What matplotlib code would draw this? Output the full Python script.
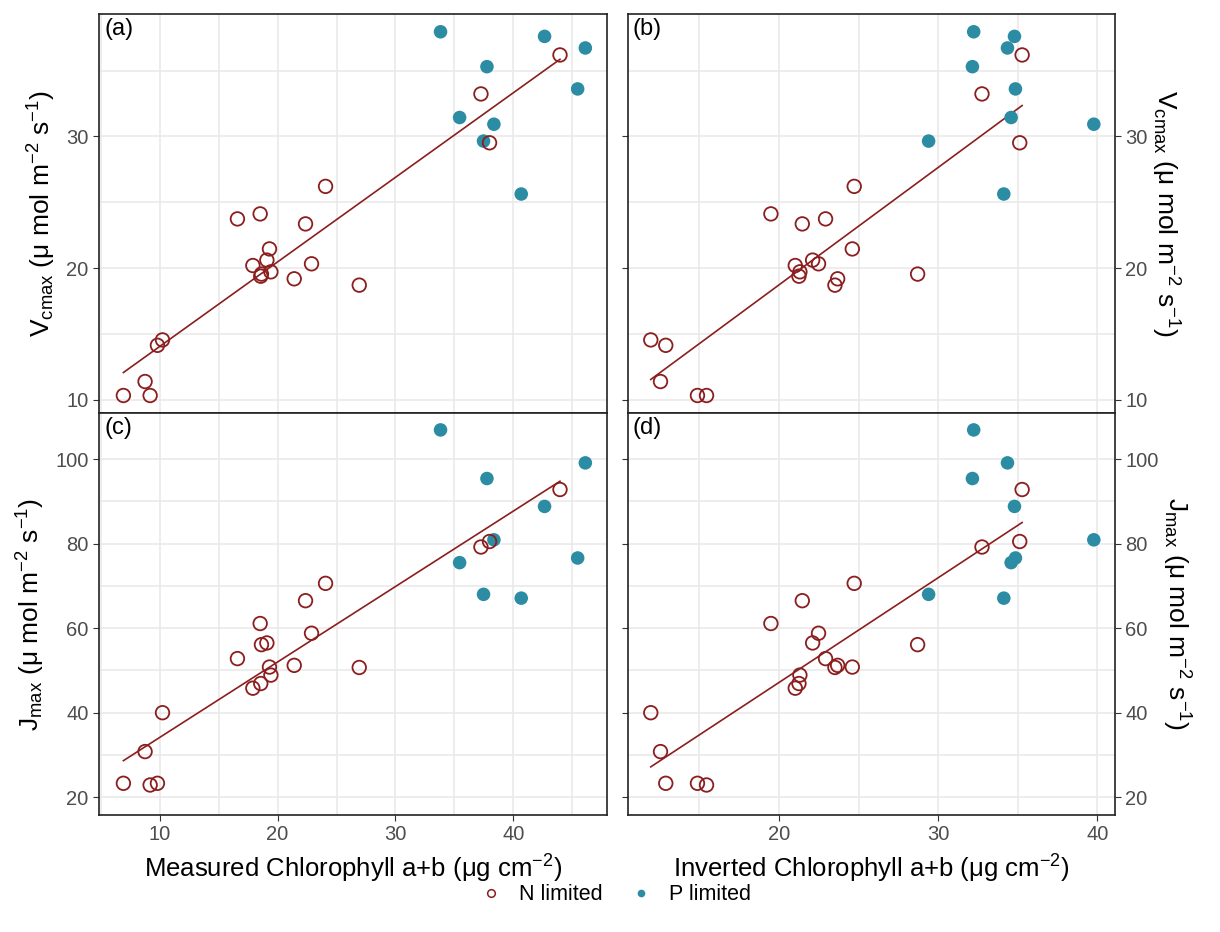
import numpy as np
import matplotlib
matplotlib.use("Agg")
import matplotlib.pyplot as plt
from matplotlib.lines import Line2D

plt.rcParams['font.family'] = ['Liberation Sans', 'DejaVu Sans']
plt.rcParams['mathtext.fontset'] = 'custom'
plt.rcParams['mathtext.rm'] = 'Liberation Sans'
plt.rcParams['mathtext.it'] = 'Liberation Sans:italic'
plt.rcParams['mathtext.default'] = 'regular'

# samples: N limited
n_chl_meas = [6.91, 8.75, 9.18, 9.80, 10.23, 16.59, 17.90, 18.52, 18.57, 18.63,
              19.09, 19.31, 19.43, 21.41, 22.37, 22.88, 24.07, 26.93, 37.26, 37.99, 43.97]
n_chl_inv = [14.89, 12.57, 15.46, 12.90, 11.96, 22.93, 21.03, 19.50, 21.26, 28.71,
             22.12, 24.61, 21.32, 23.69, 21.47, 22.49, 24.73, 23.52, 32.75, 35.12, 35.27]
n_vcmax = [10.33, 11.39, 10.33, 14.14, 14.55, 23.74, 20.20, 24.12, 19.39, 19.55,
           20.61, 21.46, 19.72, 19.19, 23.36, 20.33, 26.21, 18.71, 33.23, 29.52, 36.19]
n_jmax = [23.3, 30.8, 22.9, 23.3, 40.0, 52.8, 45.8, 61.1, 46.9, 56.1,
          56.5, 50.8, 48.9, 51.2, 66.5, 58.8, 70.6, 50.7, 79.2, 80.5, 92.8]

# samples: P limited
p_chl_meas = [33.83, 35.45, 37.48, 37.77, 38.36, 40.68, 42.66, 45.47, 46.12]
p_chl_inv = [32.23, 34.58, 29.40, 32.15, 39.77, 34.12, 34.79, 34.85, 34.35]
p_vcmax = [37.95, 31.44, 29.65, 35.30, 30.93, 25.63, 37.60, 33.61, 36.72]
p_jmax = [106.9, 75.5, 68.0, 95.4, 80.9, 67.1, 88.8, 76.6, 99.1]

N_COL = '#8b1e1e'
P_COL = '#2b8ca3'
GRID = '#e8e8e8'

fig = plt.figure(figsize=(12.2, 9.32), dpi=100)
W, H = 1220, 932


def add_ax(l, r, t, b):
    return fig.add_axes([l / W, 1 - b / H, (r - l) / W, (b - t) / H])


ax_a = add_ax(99, 607, 14, 413)
ax_b = add_ax(628, 1115, 14, 413)
ax_c = add_ax(99, 607, 413, 815)
ax_d = add_ax(628, 1115, 413, 815)

panels = [
    (ax_a, n_chl_meas, n_vcmax, p_chl_meas, p_vcmax, '(a)'),
    (ax_b, n_chl_inv, n_vcmax, p_chl_inv, p_vcmax, '(b)'),
    (ax_c, n_chl_meas, n_jmax, p_chl_meas, p_jmax, '(c)'),
    (ax_d, n_chl_inv, n_jmax, p_chl_inv, p_jmax, '(d)'),
]

for ax, nx, ny, px, py, tag in panels:
    nx, ny = np.array(nx), np.array(ny)
    ax.set_axisbelow(True)
    ax.scatter(px, py, s=95, color=P_COL, edgecolors='none', zorder=3)
    ax.scatter(nx, ny, s=95, facecolors='none', edgecolors=N_COL, linewidths=1.3, zorder=4)
    k, c0 = np.polyfit(nx, ny, 1)
    xs = np.array([nx.min(), nx.max()])
    ax.plot(xs, k * xs + c0, color=N_COL, lw=1.2, zorder=2)
    ax.text(0.01, 0.99, tag, transform=ax.transAxes, ha='left', va='top', fontsize=17)
    for sp in ax.spines.values():
        sp.set_color('#222222')
        sp.set_linewidth(1.2)
    ax.grid(True, which='both', color=GRID, lw=1.1)
    ax.tick_params(which='major', labelsize=14.5, labelcolor='#4d4d4d', color='#333333', length=4)
    ax.tick_params(which='minor', length=0)

# x limits / ticks
for ax in (ax_a, ax_c):
    ax.set_xlim(4.84, 47.96)
    ax.set_xticks([10, 20, 30, 40])
    ax.set_xticks([5, 15, 25, 35, 45], minor=True)
for ax in (ax_b, ax_d):
    ax.set_xlim(10.53, 41.1)
    ax.set_xticks([20, 30, 40])
    ax.set_xticks([15, 25, 35], minor=True)

for ax in (ax_a, ax_b):
    ax.set_ylim(9.0, 39.3)
    ax.set_yticks([10, 20, 30])
    ax.set_yticks([15, 25, 35], minor=True)
    ax.tick_params(axis='x', which='both', bottom=False, labelbottom=False)
for ax in (ax_c, ax_d):
    ax.set_ylim(15.8, 110.9)
    ax.set_yticks([20, 40, 60, 80, 100])
    ax.set_yticks([30, 50, 70, 90], minor=True)

for ax in (ax_b, ax_d):
    ax.tick_params(axis='y', which='major', left=True, right=True,
                   labelleft=False, labelright=True)
    ax.yaxis.set_label_position('right')

vlab = r'V$_{cmax}$ ($\mu$ mol m$^{-2}$ s$^{-1}$)'
jlab = r'J$_{max}$ ($\mu$ mol m$^{-2}$ s$^{-1}$)'
ax_a.set_ylabel(vlab, fontsize=19, labelpad=6)
ax_c.set_ylabel(jlab, fontsize=19, labelpad=6)
ax_b.set_ylabel(vlab, fontsize=19, rotation=270, labelpad=24)
ax_d.set_ylabel(jlab, fontsize=19, rotation=270, labelpad=24)

ax_c.set_xlabel(r'Measured Chlorophyll a+b ($\mu$g cm$^{-2}$)', fontsize=18.5, labelpad=6)
ax_d.set_xlabel(r'Inverted Chlorophyll a+b ($\mu$g cm$^{-2}$)', fontsize=18.5, labelpad=6)

handles = [
    Line2D([], [], ls='none', marker='o', ms=5.5, mfc='none', mec=N_COL, mew=1.1, label='N limited'),
    Line2D([], [], ls='none', marker='o', ms=5.5, mfc=P_COL, mec='none', label='P limited'),
]
fig.legend(handles=handles, loc='center', bbox_to_anchor=(0.5, 1 - 895 / H), ncol=2,
           frameon=False, fontsize=15.5, handletextpad=0.3, columnspacing=0.8)

fig.savefig('out.png', dpi=100, facecolor='white')
